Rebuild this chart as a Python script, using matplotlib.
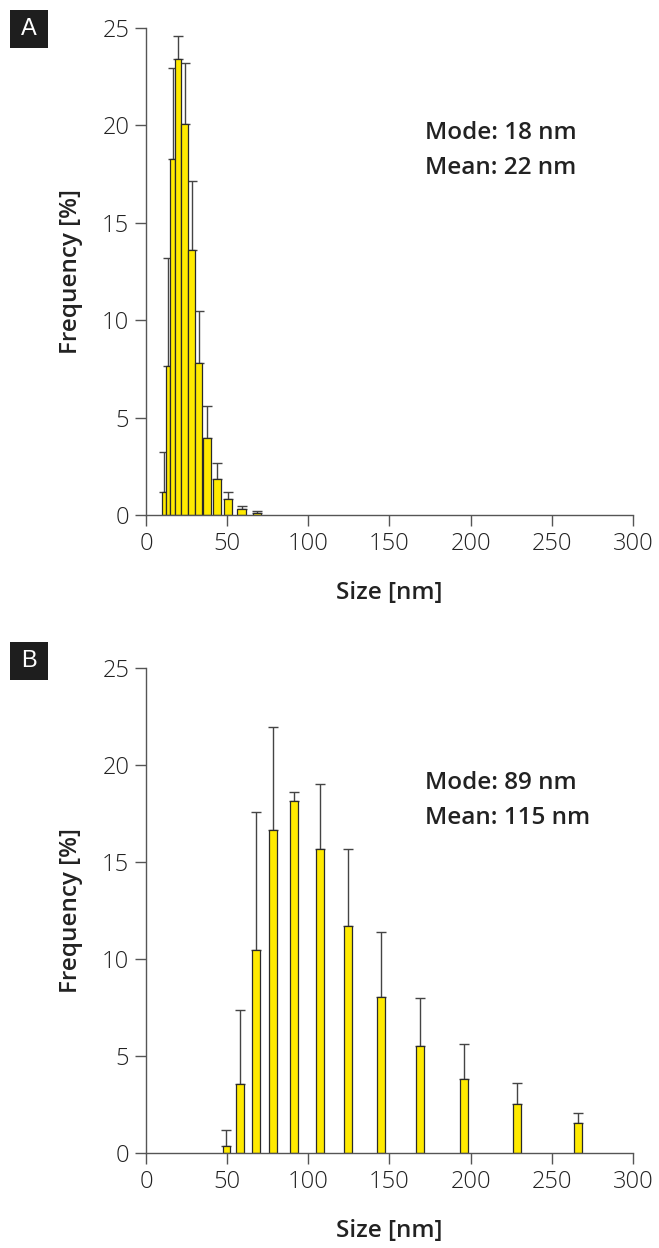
import numpy as np
import matplotlib.pyplot as plt
from matplotlib.patches import Rectangle

# panel A: histogram bins (nm), frequency (%), upper error
a_lo = [10.0, 12.3, 15.0, 17.7, 21.4, 26.1, 30.4, 35.3, 41.1, 48.2, 56.3, 66.1]
a_hi = [12.3, 15.0, 17.7, 21.4, 26.1, 30.4, 34.5, 40.2, 46.2, 53.2, 61.6, 70.9]
a_freq = [1.17, 7.67, 18.26, 23.39, 20.09, 13.6, 7.79, 3.94, 1.85, 0.80, 0.29, 0.12]
a_top = [3.25, 13.2, 22.96, 24.6, 23.2, 17.13, 10.45, 5.61, 2.69, 1.2, 0.45, 0.19]

# panel B: bin centres (nm), frequency (%), upper error
b_size = [49.6, 57.9, 67.7, 78.4, 91.4, 107.0, 124.3, 145.0, 168.8, 196.2, 228.4, 266.2]
b_freq = [0.38, 3.57, 10.48, 16.63, 18.16, 15.67, 11.72, 8.02, 5.53, 3.83, 2.53, 1.54]
b_top = [1.2, 7.39, 17.58, 21.98, 18.63, 19.02, 15.67, 11.41, 7.99, 5.6, 3.63, 2.08]

a_text = ["Mode: 18 nm", "Mean: 22 nm"]
b_text = ["Mode: 89 nm", "Mean: 115 nm"]

YELLOW = '#ffea00'
EDGE = '#2a2a2a'
AXC = '#555555'
TXT = '#222222'

plt.rcParams['font.family'] = ['Open Sans', 'DejaVu Sans']

W, H = 659, 1248
fig = plt.figure(figsize=(W / 100, H / 100), dpi=100)


def letter_box(letter, ytop):
    # black square with a white letter, in pixel units of the figure
    fig.patches.append(Rectangle((10 / W, 1 - (ytop + 38) / H), 38 / W, 38 / H,
                                 transform=fig.transFigure, fc='#1e1e1e', ec='none'))
    fig.text(29 / W, 1 - (ytop + 19) / H, letter, color='white', fontsize=17,
             ha='center', va='center', family=['Liberation Sans', 'DejaVu Sans'])


def style(ax):
    ax.set_xlim(0, 300)
    ax.set_ylim(0, 25)
    ax.set_xticks(range(0, 301, 50))
    ax.set_yticks(range(0, 26, 5))
    for s in ['top', 'right']:
        ax.spines[s].set_visible(False)
    for s in ['left', 'bottom']:
        ax.spines[s].set_color(AXC)
        ax.spines[s].set_linewidth(1.0)
    ax.tick_params(direction='out', length=8, width=1, color=AXC,
                   labelsize=17, labelcolor='#222222', pad=4)
    for lab in ax.get_xticklabels() + ax.get_yticklabels():
        lab.set_fontweight('light')
    ax.set_xlabel('Size [nm]', fontsize=17.5, fontweight='semibold', color=TXT, labelpad=18)
    ax.set_ylabel('Frequency [%]', fontsize=17.5, fontweight='semibold', color=TXT, labelpad=14)


def note(ax, lines, y0):
    ax.text(0.573, y0, lines[0], transform=ax.transAxes, fontsize=17.5,
            fontweight='semibold', color=TXT, va='center')
    ax.text(0.573, y0 - 0.072, lines[1], transform=ax.transAxes, fontsize=17.5,
            fontweight='semibold', color=TXT, va='center')


# panel A
axA = fig.add_axes([0.2215, 0.5873, 0.739, 0.3902])
lo = np.array(a_lo)
hi = np.array(a_hi)
mid = (lo + hi) / 2
axA.errorbar(mid, a_top, yerr=[np.array(a_top) - np.array(a_freq), np.zeros(len(mid))],
             fmt='none', ecolor='#444444', elinewidth=1, capsize=3.5, capthick=1, zorder=1)
axA.bar(lo, a_freq, width=hi - lo, align='edge', color=YELLOW, edgecolor=EDGE,
        linewidth=0.9, zorder=2)
style(axA)
letter_box('A', 10)
note(axA, a_text, 0.785)

# panel B
axB = fig.add_axes([0.2215, 0.0761, 0.739, 0.3886])
axB.errorbar(b_size, b_top, yerr=[np.array(b_top) - np.array(b_freq), np.zeros(len(b_size))],
             fmt='none', ecolor='#444444', elinewidth=1, capsize=3.5, capthick=1, zorder=1)
axB.bar(b_size, b_freq, width=4.9, color=YELLOW, edgecolor=EDGE, linewidth=0.9, zorder=2)
style(axB)
letter_box('B', 642)
note(axB, b_text, 0.762)

fig.savefig('out.png', dpi=100)
